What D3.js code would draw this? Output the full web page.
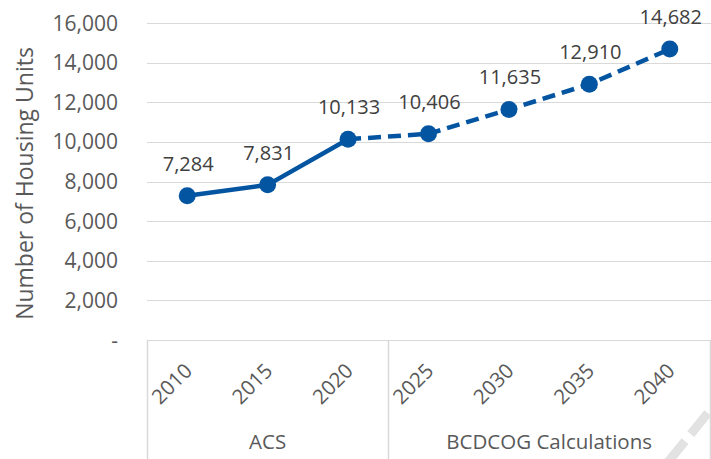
<!DOCTYPE html>
<html>
<head>
<meta charset="utf-8">
<script src="https://d3js.org/d3.v7.min.js"></script>
<style>
  body { margin: 0; background: #fff; }
  svg text { font-family: "Open Sans", sans-serif; fill: #595959; }
</style>
</head>
<body>
<svg id="chart" width="711" height="459"></svg>
<script>
var years = ["2010", "2015", "2020", "2025", "2030", "2035", "2040"];
var units = [7284, 7831, 10133, 10406, 11635, 12910, 14682];
var yTicks = [0, 2000, 4000, 6000, 8000, 10000, 12000, 14000, 16000];
var groups = [
  { name: "ACS", from: "2010", to: "2020" },
  { name: "BCDCOG Calculations", from: "2025", to: "2040" }
];
var actualEnd = 2; // index of last ACS value

var blue = "#0455a1";
var grid = "#d9d9d9";

var svg = d3.select("#chart");

var x = d3.scaleBand().domain(years).range([147, 710]);
var y = d3.scaleLinear().domain([0, 16000]).range([340, 23]);

var fmt = d3.format(",");

// gridlines
svg.append("g")
  .selectAll("line")
  .data(yTicks)
  .enter()
  .append("line")
  .attr("x1", 147).attr("x2", 711)
  .attr("y1", function(d) { return Math.round(y(d)) + 0.5; })
  .attr("y2", function(d) { return Math.round(y(d)) + 0.5; })
  .attr("stroke", grid).attr("stroke-width", 1);

// y tick labels
svg.append("g")
  .selectAll("text")
  .data(yTicks)
  .enter()
  .append("text")
  .attr("x", 118)
  .attr("y", function(d) { return y(d); })
  .attr("dy", "0.36em")
  .attr("text-anchor", "end")
  .style("font-size", "21px")
  .text(function(d) { return d === 0 ? "-" : fmt(d); });

// y axis title
svg.append("text")
  .attr("transform", "translate(33," + ((23 + 340) / 2 + 2) + ") rotate(-90)")
  .attr("text-anchor", "middle")
  .style("font-size", "23px")
  .text("Number of Housing Units");

// category box separators
var seps = [x.range()[0]];
groups.forEach(function(g) { seps.push(x(g.to) + x.bandwidth()); });
svg.append("g")
  .selectAll("line")
  .data(seps)
  .enter()
  .append("line")
  .attr("x1", function(d) { return Math.round(d) + 0.5; })
  .attr("x2", function(d) { return Math.round(d) + 0.5; })
  .attr("y1", 340).attr("y2", 459)
  .attr("stroke", grid).attr("stroke-width", 1.5);

// x tick labels (rotated)
svg.append("g")
  .selectAll("text")
  .data(years)
  .enter()
  .append("text")
  .attr("transform", function(d) {
    return "translate(" + (x(d) + x.bandwidth() / 2 + 1) + ",367) rotate(-45)";
  })
  .attr("dy", "0.36em")
  .attr("text-anchor", "end")
  .style("font-size", "20.5px")
  .text(function(d) { return d; });

// group labels
svg.append("g")
  .selectAll("text")
  .data(groups)
  .enter()
  .append("text")
  .attr("x", function(g) { return (x(g.from) + x(g.to) + x.bandwidth()) / 2; })
  .attr("y", 449)
  .attr("text-anchor", "middle")
  .style("font-size", "20.5px")
  .text(function(g) { return g.name; });

// lines
var pts = years.map(function(d, i) {
  return { year: d, v: units[i], cx: x(d) + x.bandwidth() / 2, cy: y(units[i]) };
});
var line = d3.line().x(function(d) { return d.cx; }).y(function(d) { return d.cy; });

svg.append("path")
  .datum(pts.slice(0, actualEnd + 1))
  .attr("d", line)
  .attr("fill", "none").attr("stroke", blue).attr("stroke-width", 4.5);

svg.append("path")
  .datum(pts.slice(actualEnd))
  .attr("d", line)
  .attr("fill", "none").attr("stroke", blue).attr("stroke-width", 4.5)
  .attr("stroke-dasharray", "13,7");

// markers
svg.append("g")
  .selectAll("circle")
  .data(pts)
  .enter()
  .append("circle")
  .attr("cx", function(d) { return d.cx; })
  .attr("cy", function(d) { return d.cy; })
  .attr("r", 8.5)
  .attr("fill", blue);

// data labels
svg.append("g")
  .selectAll("text")
  .data(pts)
  .enter()
  .append("text")
  .attr("x", function(d) { return d.cx + 1; })
  .attr("y", function(d) { return d.cy - 25; })
  .attr("text-anchor", "middle")
  .style("font-size", "20px")
  .style("fill", "#404040")
  .text(function(d) { return fmt(d.v); });

// faint corner decoration
svg.append("line")
  .attr("x1", 668).attr("y1", 462)
  .attr("x2", 712).attr("y2", 408)
  .attr("stroke", "#e2e2e2").attr("stroke-width", 9)
  .attr("stroke-dasharray", "27,9");
</script>
</body>
</html>
